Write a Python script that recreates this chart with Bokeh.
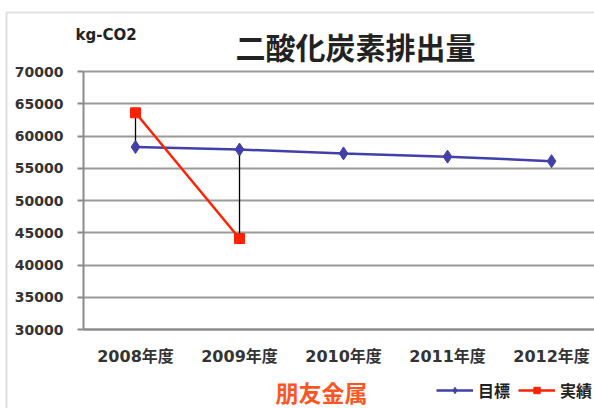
from bokeh.plotting import figure
from bokeh.models import Range1d, Legend, LegendItem, FixedTicker, Label, BoxAnnotation
from bokeh.embed import file_html
from bokeh.resources import INLINE

years = ["2008年度", "2009年度", "2010年度", "2011年度", "2012年度"]
target = [58300, 57900, 57300, 56800, 56100]   # 目標
actual = [63600, 44100]                        # 実績 (2008, 2009)
y_ticks = [30000, 35000, 40000, 45000, 50000, 55000, 60000, 65000, 70000]

xs = list(range(len(years)))
xa = xs[:len(actual)]

# plot area: x=-0.5 at px 83, 104 px per category; y 70000 at px 71, 30000 at px 329
x0, x1 = -0.5, 4.413
y0, y1 = 30000, 70000
p = figure(width=594, height=408, output_backend="svg", toolbar_location=None,
           x_range=Range1d(-1.298, x1), y_range=Range1d(17752, 81008),
           min_border=0, title=None)
p.outline_line_color = None
p.background_fill_color = "white"
p.border_fill_color = "white"

# axes drawn at the plot-area edges
p.yaxis.fixed_location = x0
p.yaxis.bounds = (y0, y1)
p.xaxis.fixed_location = y0
p.xaxis.bounds = (x0, x1)
p.yaxis.ticker = FixedTicker(ticks=y_ticks)
p.xaxis.ticker = FixedTicker(ticks=xs)
p.xaxis.major_label_overrides = {i: s for i, s in enumerate(years)}
p.yaxis.major_label_text_font = "DejaVu Sans"
p.yaxis.major_label_text_font_style = "bold"
p.yaxis.major_label_text_font_size = "14px"
p.yaxis.major_label_text_color = "#333333"
p.yaxis.major_tick_out = 6
p.yaxis.major_tick_in = 0
p.yaxis.minor_tick_out = 0
p.yaxis.minor_tick_in = 0
p.yaxis.axis_line_color = "#8a8a8a"
p.yaxis.axis_line_width = 2
p.yaxis.major_tick_line_color = "#8a8a8a"
p.yaxis.major_tick_line_width = 2
p.yaxis.major_label_standoff = 14

p.xaxis.major_label_text_font = "'DejaVu Sans', 'Noto Sans CJK JP'"
p.xaxis.major_label_text_font_style = "bold"
p.xaxis.major_label_text_font_size = "16px"
p.xaxis.major_label_text_color = "#333333"
p.xaxis.major_tick_out = 0
p.xaxis.major_tick_in = 0
p.xaxis.minor_tick_out = 0
p.xaxis.minor_tick_in = 0
p.xaxis.axis_line_color = "#8a8a8a"
p.xaxis.axis_line_width = 2
p.xaxis.major_label_standoff = 17

p.xgrid.grid_line_color = None
p.ygrid.grid_line_color = "#9a9a9a"
p.ygrid.grid_line_width = 2
p.ygrid.bounds = (y0, y1)
p.ygrid.cross_bounds = (x0, x1)

# drop lines between target and actual
p.segment(x0=xa, y0=target[:len(actual)], x1=xa, y1=actual, line_color="black", line_width=1.3)

bl = p.line(xs, target, line_color="#4040A8", line_width=2.5)
bm = p.scatter(xs, target, marker="diamond", size=13, fill_color="#4040A8", line_color="#4040A8")
rl = p.line(xa, actual, line_color="#FF2200", line_width=2.5)
rm = p.scatter(xa, actual, marker="square", size=10, fill_color="#FF2200", line_color="#FF2200")

# texts
p.add_layout(Label(x=x0, y=y1, x_offset=-8, y_offset=37, text="kg-CO2",
                   text_font="DejaVu Sans", text_font_style="bold", text_font_size="15px",
                   text_color="#222222", text_baseline="middle", text_align="left"))
p.add_layout(Label(x=2.115, y=y1, y_offset=26, text="二酸化炭素排出量",
                   text_font="Noto Sans CJK JP", text_font_style="bold", text_font_size="30px",
                   text_color="#222222", text_baseline="middle", text_align="center"))
p.add_layout(Label(x=1.788, y=y0, y_offset=-62, text="朋友金属",
                   text_font="Noto Sans CJK JP", text_font_style="bold", text_font_size="23px",
                   text_color="#FF5522", text_baseline="middle", text_align="center"))

legend = Legend(items=[LegendItem(label="目標", renderers=[bl, bm]),
                       LegendItem(label="実績", renderers=[rl, rm])],
                orientation="horizontal", location=(436, 6),
                glyph_width=37, glyph_height=16, label_standoff=5, spacing=8,
                padding=0, margin=0, border_line_color=None, background_fill_alpha=0,
                label_text_font="Noto Sans CJK JP", label_text_font_style="bold",
                label_text_font_size="16px", label_text_color="#222222")
p.add_layout(legend, "center")

# outer chart border
p.add_layout(BoxAnnotation(left=6, right=2000, top=12, bottom=2000,
                           left_units="canvas", right_units="canvas",
                           top_units="canvas", bottom_units="canvas",
                           fill_alpha=0, line_color="#999999", line_width=2))

open("out.html", "w").write(file_html(p, INLINE))
